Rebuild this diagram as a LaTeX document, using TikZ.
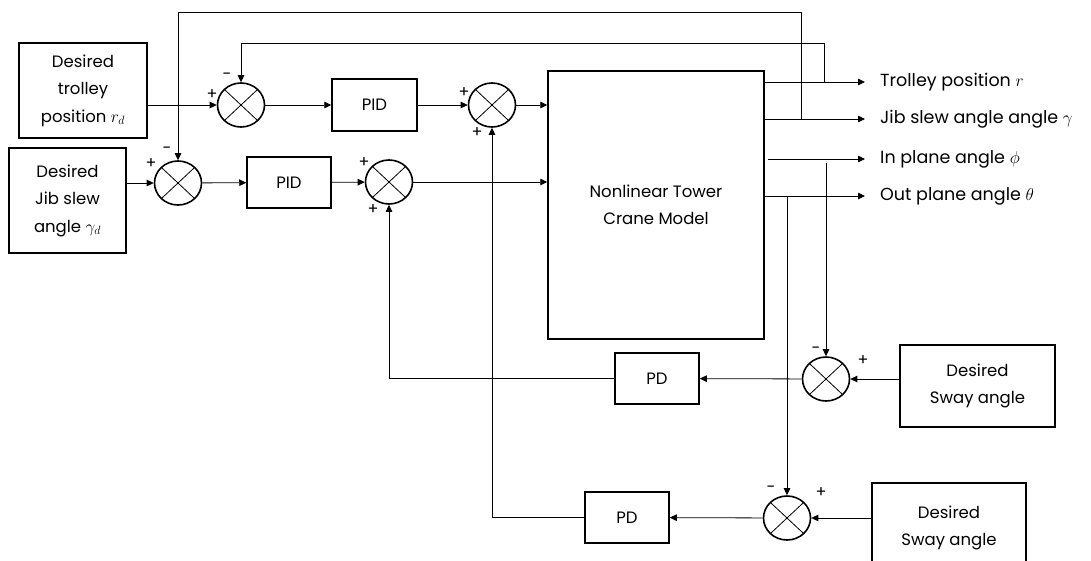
\documentclass[tikz,border=0pt]{standalone}
\usepackage{fontspec}
\setmainfont{Poppins}
\usetikzlibrary{arrows.meta,shapes.geometric}
\begin{document}
\begin{tikzpicture}[x=1pt,y=-1pt,
  every node/.style={font=\fontsize{16.5}{27.5}\selectfont},
  blk/.style={draw, line width=1.5pt, align=center, inner sep=0pt},
  sumj/.style={ellipse, draw, line width=1.6pt, minimum width=47pt, minimum height=44pt, inner sep=0pt,
    path picture={\draw[line width=0.8pt] (path picture bounding box.south west) -- (path picture bounding box.north east)
      (path picture bounding box.north west) -- (path picture bounding box.south east);}},
  conn/.style={line width=0.8pt},
  arr/.style={conn, -{Triangle[length=7pt,width=6.5pt]}},
  sgn/.style={font=\fontsize{16}{16}\selectfont, inner sep=0pt},
  lbl/.style={anchor=west, inner sep=0pt, font=\fontsize{17.5}{20}\selectfont}
]
\useasboundingbox (0,0) rectangle (1091,560);
\begin{scope}
\clip (0,0) rectangle (1091,560);
% blocks
\node[blk, minimum width=128pt, minimum height=95pt] (trd) at (83,90.5) {Desired\\trolley\\position $r_d$};
\node[blk, minimum width=117pt, minimum height=105pt] (jbd) at (67.5,200.5) {Desired\\Jib slew\\angle $\gamma_d$};
\node[blk, minimum width=85pt, minimum height=52pt] (pid1) at (374.5,105) {PID};
\node[blk, minimum width=84pt, minimum height=51pt] (pid2) at (289,182.5) {PID};
\node[blk, minimum width=216pt, minimum height=268pt] (main) at (656,205) {Nonlinear Tower\\Crane Model};
\node[blk, minimum width=84pt, minimum height=51pt] (pd1) at (657,378.5) {PD};
\node[blk, minimum width=84pt, minimum height=51pt] (pd2) at (627,517.5) {PD};
\node[blk, minimum width=155pt, minimum height=82pt] (sw1) at (977.5,386) {Desired\\Sway angle};
\node[blk, minimum width=154pt, minimum height=90pt] (sw2) at (949,528) {Desired\\Sway angle};
\end{scope}
% summing junctions
\node[sumj] (s1) at (241,105) {};
\node[sumj] (s2) at (178,183) {};
\node[sumj] (s3) at (492,105) {};
\node[sumj] (s4) at (389,182) {};
\node[sumj] (s5) at (826,379) {};
\node[sumj] (s6) at (787,518) {};
% signs
\node[sgn] at (227,76) {-};
\node[sgn] at (212,95) {+};
\node[sgn] at (167,150) {-};
\node[sgn] at (151,164) {+};
\node[sgn] at (464,93) {+};
\node[sgn] at (477,133) {+};
\node[sgn] at (364,163) {+};
\node[sgn] at (373,210) {+};
\node[sgn] at (816,350) {-};
\node[sgn] at (863,361) {+};
\node[sgn] at (771,489) {-};
\node[sgn] at (821,493) {+};
% coordinates
\coordinate (o1) at (865,82);
\coordinate (o2) at (865,119);
\coordinate (o3) at (865,159);
\coordinate (o4) at (865,196);
% forward path
\draw[arr] (trd.east |- s1) -- (s1);
\draw[arr] (jbd.east |- s2) -- (s2);
\draw[arr] (s1) -- (pid1);
\draw[arr] (s2) -- (pid2);
\draw[arr] (pid1) -- (s3);
\draw[arr] (pid2) -- (s4);
\draw[arr] (s3) -- (s3 -| main.west);
\draw[arr] (s4) -- (s4 -| main.west);
% outputs
\draw[arr] (main.east |- o1) -- (o1);
\draw[arr] (main.east |- o2) -- (o2);
\draw[arr] ([xshift=3pt]main.east |- o3) -- (o3);
\draw[arr] (main.east |- o4) -- (o4);
\node[lbl] at (880,82) {Trolley position $r$};
\node[lbl] at (880,119) {Jib slew angle angle $\gamma$};
\node[lbl] at (880,159) {In plane angle $\phi$};
\node[lbl] at (880,196) {Out plane angle $\theta$};
% top feedback loops
\draw[arr] (824,82) -- (824,43) -| (s1.north);
\draw[arr] (801,119) -- (801,12) -| (s2.north);
% sway feedback
\draw[arr] (826,163) -- (s5.north);
\draw[arr] (787,196) -- (s6.north);
\draw[arr] (sw1.west |- s5) -- (s5);
\draw[arr] (sw2.west |- s6) -- (s6);
\draw[arr] (s5) -- (pd1);
\draw[arr] (s6) -- (pd2);
\draw[arr] (pd1.west) -| (s4.south);
\draw[arr] (pd2.west) -| (s3.south);
\end{tikzpicture}
\end{document}
